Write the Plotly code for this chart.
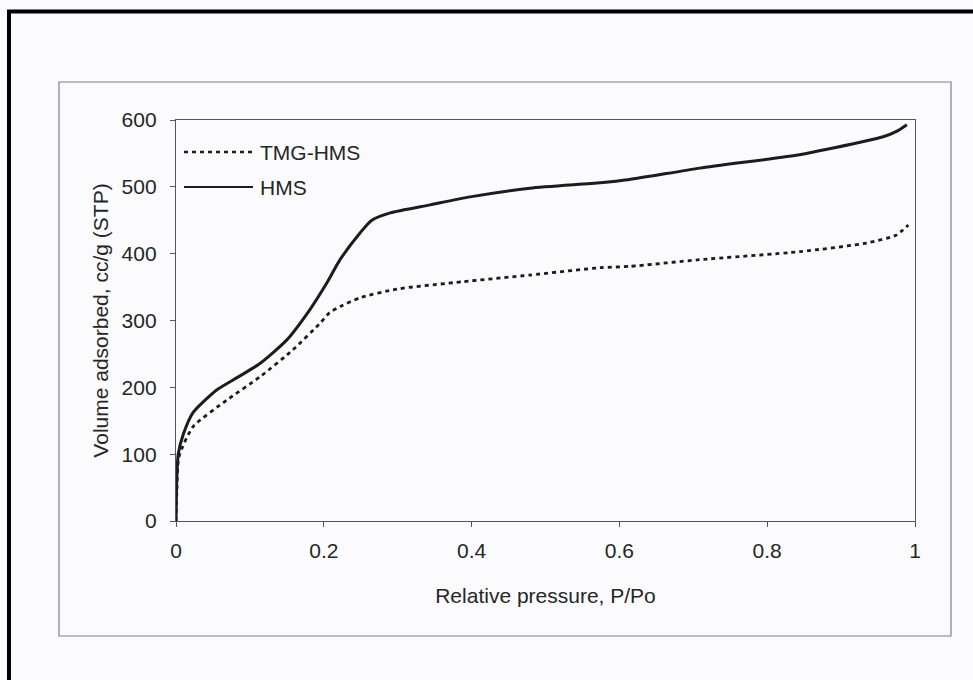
import plotly.graph_objects as go

# Data
series_names = ["TMG-HMS", "HMS"]

p_hms = [0.0, 0.001, 0.003, 0.010, 0.023, 0.055, 0.085, 0.114, 0.150, 0.181, 0.204,
         0.222, 0.249, 0.265, 0.290, 0.344, 0.398, 0.479, 0.574, 0.614, 0.709, 0.844,
         0.889, 0.957, 0.975, 0.989]
v_hms = [0, 60, 100, 130, 162, 196, 216, 236, 271, 316, 356,
         391, 431, 450, 461, 473, 485, 498, 506, 511, 528, 548,
         558, 575, 583, 593]

p_tmg = [0.0, 0.001, 0.004, 0.023, 0.069, 0.114, 0.158, 0.195, 0.208, 0.222, 0.249,
         0.299, 0.388, 0.479, 0.574, 0.614, 0.709, 0.844, 0.935, 0.975, 0.991]
v_tmg = [0, 40, 96, 141, 181, 216, 256, 296, 312, 321, 334,
         347, 358, 368, 379, 381, 391, 403, 416, 428, 443]

x_ticks = [0, 0.2, 0.4, 0.6, 0.8, 1]
x_tick_text = ["0", "0.2", "0.4", "0.6", "0.8", "1"]
y_ticks = [0, 100, 200, 300, 400, 500, 600]

FONT = "Liberation Sans, Arial, sans-serif"
INK = "#1c1c1c"
TXT = "#262626"
DASH = "4px,4px"

fig = go.Figure()
fig.add_trace(go.Scatter(x=p_tmg, y=v_tmg, mode="lines", name=series_names[0], showlegend=False,
                         line=dict(color=INK, width=2.8, dash=DASH, shape="spline", smoothing=0.6)))
fig.add_trace(go.Scatter(x=p_hms, y=v_hms, mode="lines", name=series_names[1], showlegend=False,
                         line=dict(color=INK, width=3, shape="spline", smoothing=0.6)))

W, H = 973, 680
L, R, T, B = 176, 915, 120, 521


def px(xp):
    return (xp - L) / (R - L)


def py(yp):
    return (B - yp) / (B - T)


shapes = [
    # grey outer frame
    dict(type="rect", xref="paper", yref="paper", x0=px(59), x1=px(951), y0=py(636), y1=py(82),
         line=dict(color="#808080", width=1.2), layer="below"),
    # thick black border (top and left)
    dict(type="line", xref="paper", yref="paper", x0=px(7), x1=px(975), y0=py(11.5), y1=py(11.5),
         line=dict(color="black", width=4)),
    dict(type="line", xref="paper", yref="paper", x0=px(9), x1=px(9), y0=py(10), y1=py(682),
         line=dict(color="black", width=4)),
]

# legend (long key samples as in the reference)
annotations = []
legend_rows = [(series_names[0], 152, DASH, 2.5), (series_names[1], 187, "solid", 2.2)]
for name, yy, dash, wd in legend_rows:
    shapes.append(dict(type="line", xref="paper", yref="paper", x0=px(184), x1=px(253),
                       y0=py(yy), y1=py(yy), line=dict(color=INK, width=wd, dash=dash)))
    annotations.append(dict(xref="paper", yref="paper", x=px(258), y=py(yy), text=name,
                            showarrow=False, xanchor="left", yanchor="middle",
                            font=dict(family=FONT, size=21, color=TXT)))

fig.update_layout(
    width=W, height=H,
    margin=dict(l=L, r=W - R, t=T, b=H - B, autoexpand=False),
    paper_bgcolor="#fbfbfd", plot_bgcolor="#fbfbfd",
    font=dict(family=FONT, size=21, color=TXT),
    showlegend=False,
    shapes=shapes,
    annotations=annotations,
    xaxis=dict(range=[0, 1], tickvals=x_ticks, ticktext=x_tick_text,
               showgrid=False, zeroline=False, showline=True, linecolor="#555555", linewidth=1.3,
               mirror=True, ticks="outside", ticklen=5, tickcolor="#555555", ticklabelstandoff=6,
               tickfont=dict(size=21, family=FONT, color=TXT),
               title=dict(text="Relative pressure, P/Po", font=dict(size=21, family=FONT, color=TXT), standoff=26),
               automargin=False),
    yaxis=dict(range=[0, 600], tickvals=y_ticks, showgrid=False, zeroline=False, showline=True,
               linecolor="#555555", linewidth=1.3, mirror=True, ticks="outside", ticklen=5,
               tickcolor="#555555", ticklabelstandoff=9,
               tickfont=dict(size=21, family=FONT, color=TXT),
               title=dict(text="Volume adsorbed, cc/g (STP)", font=dict(size=21, family=FONT, color=TXT), standoff=7),
               automargin=False),
)

fig.write_html("out.html")
